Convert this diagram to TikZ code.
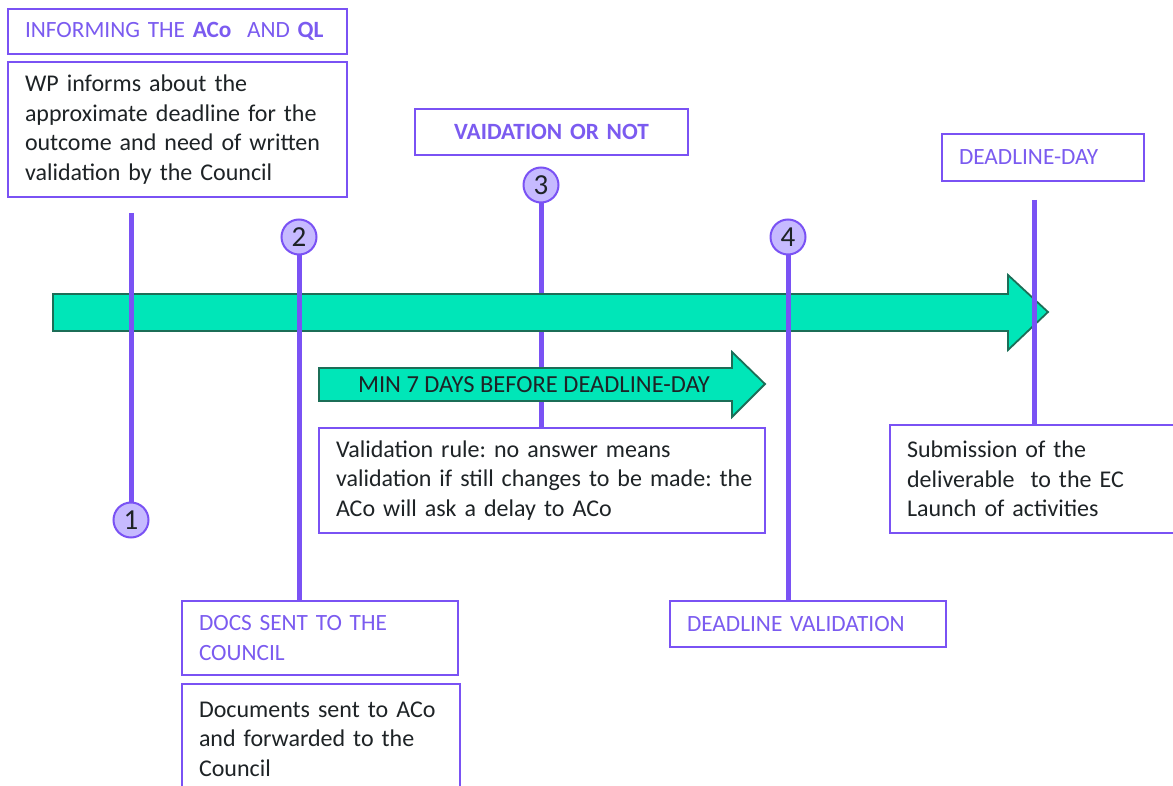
\documentclass[tikz,border=0pt]{standalone}
\usepackage{fontspec}
\setmainfont{Carlito}
\usetikzlibrary{calc}
\definecolor{vline}{HTML}{7A52F4}
\definecolor{vtext}{HTML}{7B5BF0}
\definecolor{cfill}{HTML}{C6BAFF}
\definecolor{afill}{HTML}{00E6B8}
\definecolor{aedge}{HTML}{1C6E57}
\definecolor{dtext}{HTML}{1E2326}
\frenchspacing
\tikzset{
  box/.style={draw=vline, line width=2pt, fill=white, anchor=north west, inner xsep=17pt, inner ysep=0pt, align=left},
  titlebox/.style={box, text=vtext, font=\fontsize{23.3}{30}\selectfont},
  bodybox/.style={box, text=dtext, font=\fontsize{24}{29.5}\selectfont},
  numcirc/.style={circle, draw=vline, line width=2pt, fill=cfill, minimum size=35pt, inner sep=0pt, text=dtext, font=\fontsize{29}{29}\selectfont},
  tline/.style={draw=vline, line width=5pt},
  bigarrow/.style={fill=afill, draw=aedge, line width=1.8pt, line join=miter},
}
\begin{document}
\begin{tikzpicture}[x=1pt,y=-1pt]
\useasboundingbox (0,0) rectangle (1173,786);
% nodes
\node[titlebox, minimum width=339pt, minimum height=45pt, text width=305pt] (t1) at (7,8) {\mbox{INFORMING THE \textbf{ACo}\ \ AND \textbf{QL}}};
\node[bodybox, minimum width=339pt, minimum height=135pt, text width=305pt] (b1) at (7,61) {WP informs about the\\approximate deadline for the\\outcome and need of written\\validation by the Council};
\node[titlebox, minimum width=273pt, minimum height=46pt, text width=239pt, align=center, font=\fontsize{23.3}{30}\selectfont\bfseries] (t3) at (414,108) {VAIDATION OR NOT};
\node[titlebox, minimum width=202pt, minimum height=47pt, text width=168pt] (t5) at (941,133) {DEADLINE-DAY};
\node[titlebox, minimum width=276pt, minimum height=74pt, text width=242pt] (t2) at (181,600) {DOCS SENT TO THE\\COUNCIL};
\node[bodybox, minimum width=278pt, minimum height=110pt, text width=244pt] (b2) at (181,683) {Documents sent to ACo\\and forwarded to the\\Council};
\node[titlebox, minimum width=276pt, minimum height=46pt, text width=242pt] (t4) at (669,600) {DEADLINE VALIDATION};
\node[bodybox, minimum width=446pt, minimum height=105pt, text width=412pt] (b3) at (318,427) {\mbox{Validation rule: no answer means}\\\mbox{validation if still changes to be made: the}\\ACo will ask a delay to ACo};
\node[bodybox, minimum width=290pt, minimum height=108pt, text width=256pt] (b5) at (889,424) {Submission of the\\deliverable\ \ to the EC\\Launch of activities};
% circles
\node[numcirc] (c1) at (131,520) {1};
\node[numcirc] (c2) at (299,237) {2};
\node[numcirc] (c3) at (541,185) {3};
\node[numcirc] (c4) at (788,237) {4};
\coordinate (top1) at (131,213);
\coordinate (top5) at (1034,200);
% line under the arrows
\draw[tline] (c3.south) -- (c3 |- b3.north);
% big arrow
\draw[bigarrow] (53,294) -- (1008,294) -- (1008,275) -- (1048,312) -- (1008,350) -- (1008,331) -- (53,331) -- cycle;
% small arrow
\draw[bigarrow] (319,368) -- (732,368) -- (732,352) -- (765,384) -- (732,417) -- (732,401) -- (319,401) -- cycle;
\node[text=dtext, font=\fontsize{24.5}{24.5}\selectfont] (m7) at (534,385) {MIN 7 DAYS BEFORE DEADLINE-DAY};
% lines over arrows
\draw[tline] (top1) -- (c1.north);
\draw[tline] (c2.south) -- (c2 |- t2.north);
\draw[tline] (c4.south) -- (c4 |- t4.north);
\draw[tline] (top5) -- (top5 |- b5.north);
\end{tikzpicture}
\end{document}
